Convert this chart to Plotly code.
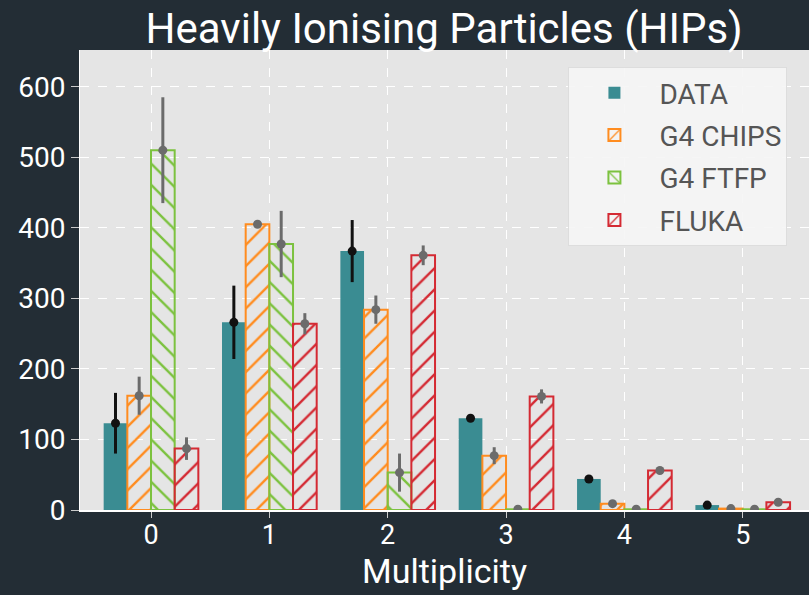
import plotly.graph_objects as go

categories = [0, 1, 2, 3, 4, 5]
series_names = ["DATA", "G4 CHIPS", "G4 FTFP", "FLUKA"]
data_vals = [123, 266, 367, 130, 44, 7]
data_err = [43, 52, 44, 2, 2, 1]
chips_vals = [162, 405, 284, 77, 9, 2]
chips_err = [27, 3, 20, 12, 2, 1]
ftfp_vals = [510, 377, 53, 1, 1, 1]
ftfp_err = [75, 47, 27, 1, 1, 1]
fluka_vals = [87, 264, 361, 161, 56, 11]
fluka_err = [16, 15, 14, 10, 2, 2]

values = [data_vals, chips_vals, ftfp_vals, fluka_vals]
errors = [data_err, chips_err, ftfp_err, fluka_err]
colors = ["#3a8c92", "#ff8c1f", "#7cc23f", "#d42a33"]
patterns = ["", "/", "\\", "/"]
err_colors = ["#111111", "#6b6b6b", "#6b6b6b", "#6b6b6b"]

bar_w = 0.2
offsets = [-0.3, -0.1, 0.1, 0.3]

fig = go.Figure()
for i, name in enumerate(series_names):
    xs = [c + offsets[i] for c in categories]
    if patterns[i]:
        marker = dict(color="rgba(0,0,0,0)",
                      line=dict(color=colors[i], width=2),
                      pattern=dict(shape=patterns[i], fgcolor=colors[i], fgopacity=1,
                                   bgcolor="rgba(0,0,0,0)", size=15,
                                   solidity=0.16, fillmode="overlay"))
    else:
        marker = dict(color=colors[i], line=dict(color=colors[i], width=0))
    fig.add_trace(go.Bar(x=xs, y=values[i], width=bar_w, name=name,
                         marker=marker, legendgroup=name))
for i, name in enumerate(series_names):
    xs = [c + offsets[i] for c in categories]
    fig.add_trace(go.Scatter(x=xs, y=values[i], mode="markers",
                             marker=dict(color=err_colors[i], size=9),
                             error_y=dict(type="data", array=errors[i],
                                          color=err_colors[i], thickness=3, width=0),
                             showlegend=False, hoverinfo="skip"))

fig.update_layout(
    width=809, height=595,
    barmode="overlay",
    paper_bgcolor="#232d35",
    plot_bgcolor="#e5e5e5",
    margin=dict(l=80, r=0, t=50, b=85),
    font=dict(family="Roboto", color="white", size=28),
    title=dict(text="Heavily Ionising Particles (HIPs)", x=0.549, xanchor="center",
               y=0.953, yanchor="middle", font=dict(size=42, color="white")),
    xaxis=dict(range=[-0.6, 5.56], tickvals=categories, ticktext=[str(c) for c in categories],
               showgrid=True, gridcolor="white", griddash="dash", gridwidth=1,
               ticks="outside", ticklen=6, tickcolor="#cccccc",
               showline=True, linecolor="white", linewidth=2,
               ticklabelstandoff=-6,
               title=dict(text="Multiplicity", font=dict(size=34, color="white"), standoff=8),
               tickfont=dict(size=27, color="white"), zeroline=False),
    yaxis=dict(range=[0, 652], tickvals=[0, 100, 200, 300, 400, 500, 600],
               showgrid=True, gridcolor="white", griddash="dash", gridwidth=1,
               ticks="outside", ticklen=8, tickcolor="#cccccc",
               showline=True, linecolor="white", linewidth=1,
               tickfont=dict(size=28, color="white"), zeroline=False),
    legend=dict(x=0.67, y=0.963, xanchor="left", yanchor="top",
                bgcolor="rgba(245,245,245,0.9)", bordercolor="#dddddd", borderwidth=1,
                font=dict(size=28, color="#555555"), tracegroupgap=3,
                itemwidth=80),
    showlegend=True,
)

fig.write_html("out.html")
